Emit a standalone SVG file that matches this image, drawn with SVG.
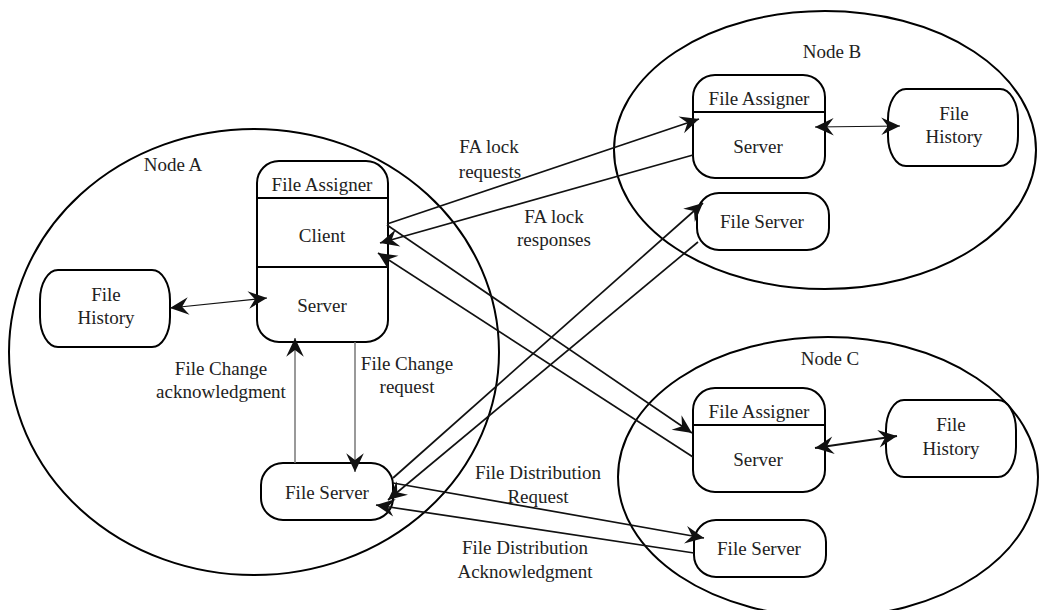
<svg xmlns="http://www.w3.org/2000/svg" width="1040" height="610" viewBox="0 0 1040 610">
  <style>
    text { font-family: "Liberation Serif", "Times New Roman", serif; font-size: 19px; fill: #222; text-anchor: middle; }
    .region { fill: none; stroke: #000; stroke-width: 2; }
    .box { fill: #fff; stroke: #000; stroke-width: 2; }
    .div { stroke: #000; stroke-width: 2; }
    .link { fill: none; stroke: #111; stroke-width: 1.7; }
    .thin { fill: none; stroke: #111; stroke-width: 1.1; }
    .bold { fill: none; stroke: #111; stroke-width: 2.2; }
    .gray { fill: none; stroke: #777; stroke-width: 1.5; }
  </style>
  <defs>
    <marker id="head" markerUnits="userSpaceOnUse" markerWidth="22" markerHeight="22" viewBox="-18 -9 20 18" refX="0" refY="0" orient="auto-start-reverse">
      <path d="M0,0 L-17,-8 L-11,0 L-17,8 Z" fill="#111"/>
    </marker>
  </defs>

  <!-- node regions -->
  <g id="region-a">
    <ellipse class="region" cx="254" cy="352" rx="245" ry="223"/>
    <text x="173" y="171">Node A</text>
  </g>
  <g id="region-b">
    <ellipse class="region" cx="825" cy="150" rx="211" ry="139"/>
    <text x="832" y="58">Node B</text>
  </g>
  <g id="region-c">
    <ellipse class="region" cx="828" cy="477" rx="210" ry="140"/>
    <text x="830" y="365">Node C</text>
  </g>

  <!-- Node A components -->
  <g id="a-file-assigner">
    <rect class="box" x="257" y="161" width="131" height="181" rx="22" ry="22"/>
    <line class="div" x1="257" y1="198" x2="388" y2="198"/>
    <line class="div" x1="257" y1="267" x2="388" y2="267"/>
    <text x="322" y="191">File Assigner</text>
    <text x="322" y="242">Client</text>
    <text x="322" y="312">Server</text>
  </g>
  <g id="a-file-history">
    <rect class="box" x="40" y="270" width="130" height="77" rx="18" ry="30"/>
    <text x="106" y="301">File</text>
    <text x="106" y="324">History</text>
  </g>
  <g id="a-file-server">
    <rect class="box" x="261" y="463" width="132" height="57" rx="22" ry="22"/>
    <text x="327" y="499">File Server</text>
  </g>

  <!-- Node B components -->
  <g id="b-file-assigner">
    <rect class="box" x="693" y="75" width="132" height="103" rx="22" ry="22"/>
    <line class="div" x1="693" y1="112" x2="825" y2="112"/>
    <text x="759" y="105">File Assigner</text>
    <text x="758" y="153">Server</text>
  </g>
  <g id="b-file-history">
    <rect class="box" x="888" y="89" width="130" height="77" rx="18" ry="30"/>
    <text x="954" y="120">File</text>
    <text x="954" y="143">History</text>
  </g>
  <g id="b-file-server">
    <rect class="box" x="697" y="193" width="132" height="57" rx="22" ry="22"/>
    <text x="762" y="228">File Server</text>
  </g>

  <!-- Node C components -->
  <g id="c-file-assigner">
    <rect class="box" x="693" y="388" width="132" height="104" rx="22" ry="22"/>
    <line class="div" x1="693" y1="425" x2="825" y2="425"/>
    <text x="759" y="418">File Assigner</text>
    <text x="758" y="466">Server</text>
  </g>
  <g id="c-file-history">
    <rect class="box" x="886" y="400" width="130" height="77" rx="18" ry="30"/>
    <text x="951" y="431">File</text>
    <text x="951" y="455">History</text>
  </g>
  <g id="c-file-server">
    <rect class="box" x="694" y="520" width="132" height="57" rx="22" ry="22"/>
    <text x="759" y="555">File Server</text>
  </g>

  <!-- connectors -->
  <g id="connectors">
    <line class="thin" x1="170" y1="308" x2="267" y2="298" marker-start="url(#head)" marker-end="url(#head)"/>
    <line class="gray" x1="295" y1="463" x2="295" y2="338" marker-end="url(#head)"/>
    <line class="gray" x1="355" y1="342" x2="355" y2="472" marker-end="url(#head)"/>
    <line class="link" x1="387" y1="224" x2="699" y2="119" marker-end="url(#head)"/>
    <line class="link" x1="693" y1="155" x2="380" y2="243" marker-end="url(#head)"/>
    <line class="link" x1="387" y1="225" x2="692" y2="433" marker-end="url(#head)"/>
    <line class="link" x1="693" y1="457" x2="378" y2="253" marker-end="url(#head)"/>
    <line class="link" x1="393" y1="478" x2="703" y2="203" marker-end="url(#head)"/>
    <line class="link" x1="698" y1="242" x2="388" y2="500" marker-end="url(#head)"/>
    <line class="link" x1="393" y1="483" x2="704" y2="538" marker-end="url(#head)"/>
    <line class="link" x1="694" y1="553" x2="376" y2="505" marker-end="url(#head)"/>
    <line class="thin" x1="815" y1="127" x2="900" y2="126" marker-start="url(#head)" marker-end="url(#head)"/>
    <line class="bold" x1="815" y1="448" x2="897" y2="436" marker-start="url(#head)" marker-end="url(#head)"/>
  </g>

  <!-- connector labels -->
  <g id="labels">
    <text x="221" y="375">File Change</text>
    <text x="221" y="398">acknowledgment</text>
    <text x="407" y="370">File Change</text>
    <text x="407" y="393">request</text>
    <text x="489" y="153">FA lock</text>
    <text x="490" y="178">requests</text>
    <text x="554" y="223">FA lock</text>
    <text x="554" y="246">responses</text>
    <text x="538" y="479">File Distribution</text>
    <text x="538" y="503">Request</text>
    <text x="525" y="554">File Distribution</text>
    <text x="525" y="578">Acknowledgment</text>
  </g>
</svg>
